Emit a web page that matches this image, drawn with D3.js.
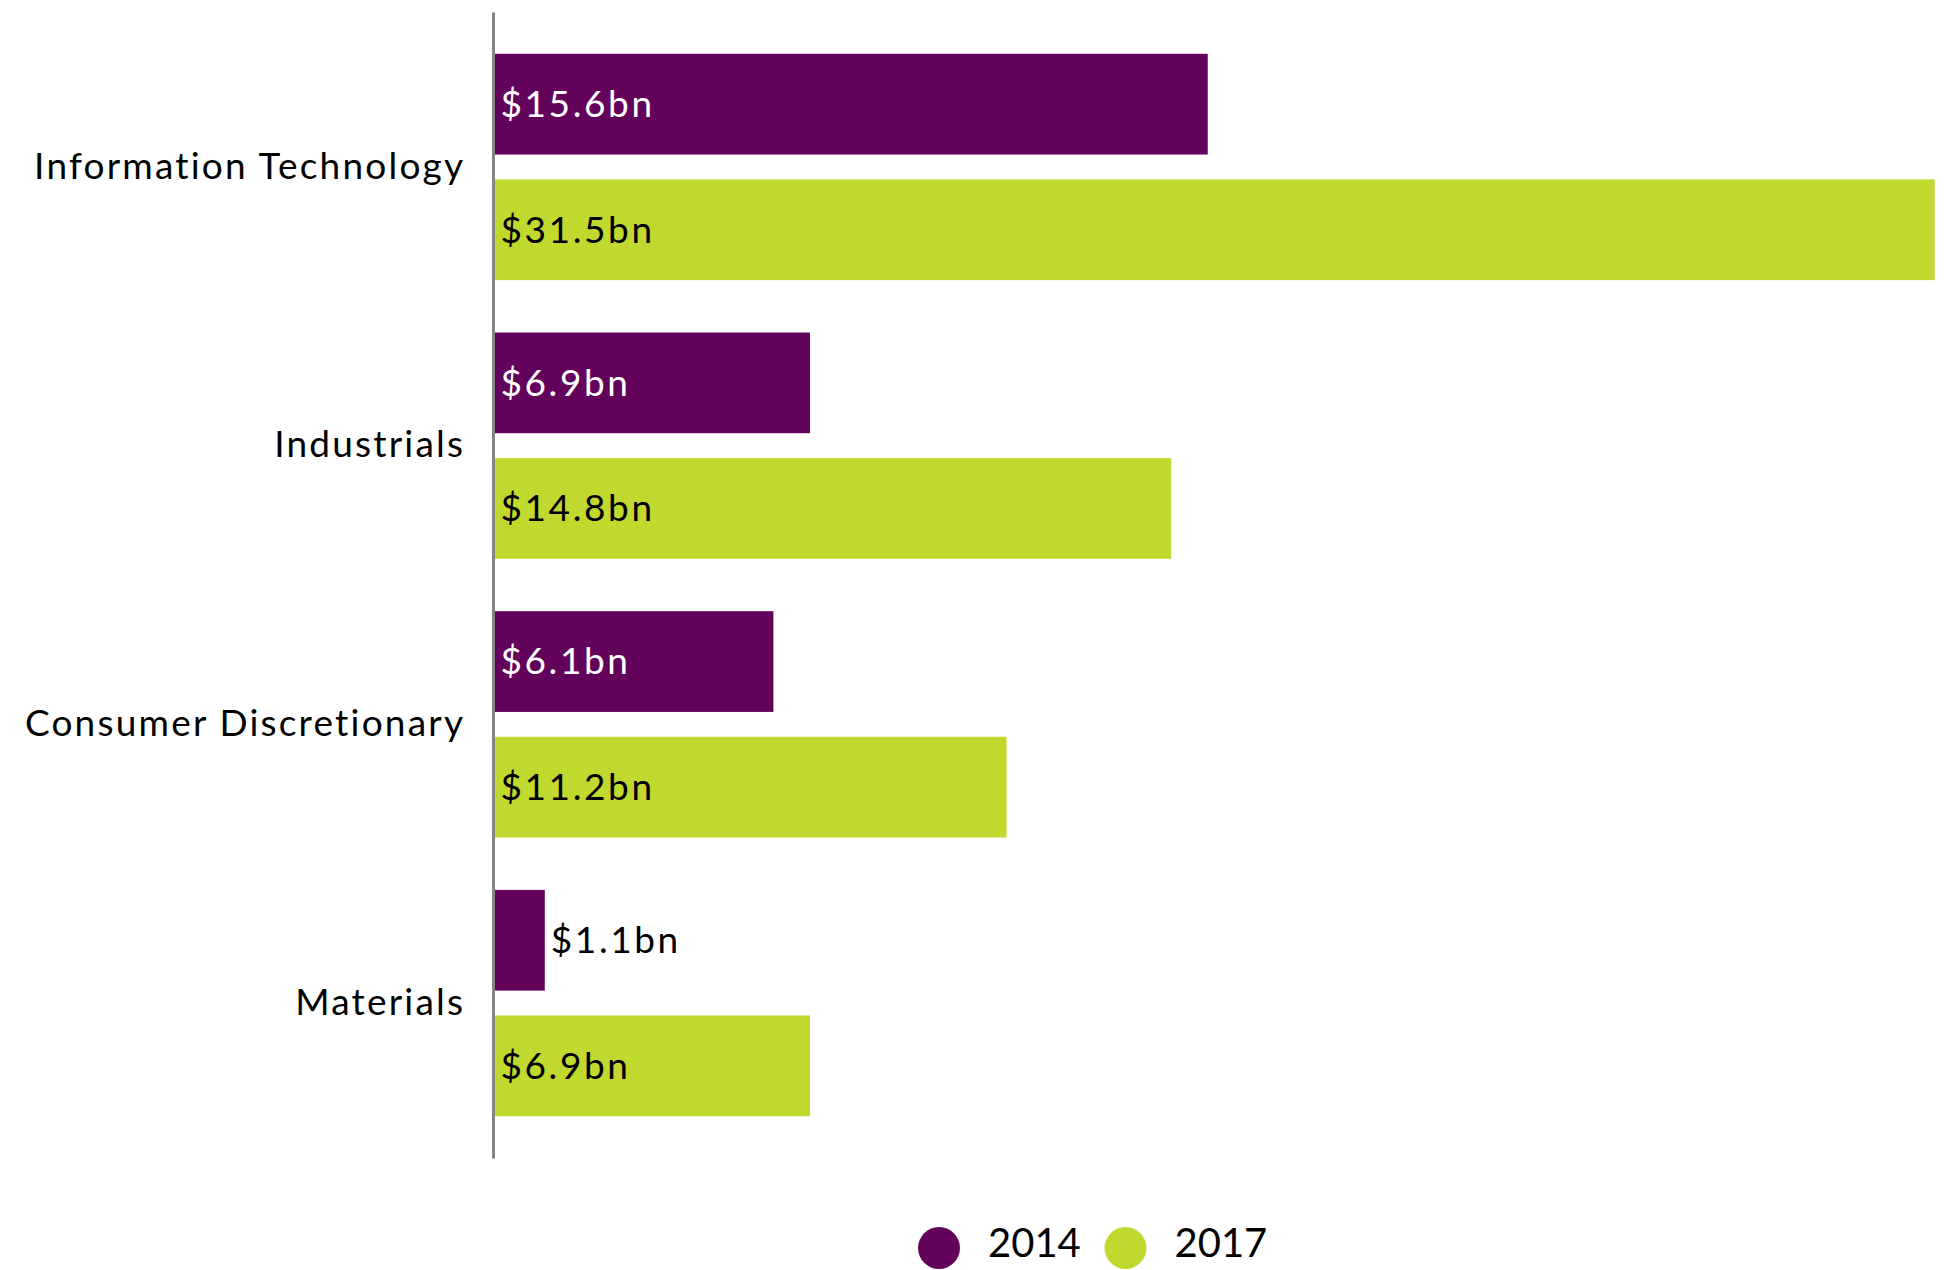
<!DOCTYPE html>
<html>
<head>
<meta charset="utf-8">
<script src="https://cdn.jsdelivr.net/npm/d3@7"></script>
<style>
  html, body { margin: 0; padding: 0; background: #ffffff; }
  svg { display: block; }
  text {
    font-family: Lato, "Open Sans", sans-serif;
    font-weight: 400;
    font-variant-ligatures: none;
  }
</style>
</head>
<body>
<svg id="chart" width="1953" height="1270"></svg>
<script>
// Sectors and funding per year (US$ billions)
const sectors = ["Information Technology", "Industrials", "Consumer Discretionary", "Materials"];
const years = ["2014", "2017"];
const values2014 = [15.6, 6.9, 6.1, 1.1];
const values2017 = [31.5, 14.8, 11.2, 6.9];
const yearColors = ["#63025a", "#c1d92f"];
const labelColors = ["#ffffff", "#000000"];

const seriesByYear = { "2014": values2014, "2017": values2017 };
const rows = sectors.map((s, i) => ({
  sector: s,
  bars: years.map((y, j) => ({ sector: s, year: y, value: seriesByYear[y][i] }))
}));

const W = 1953, H = 1270;
const svg = d3.select("#chart");

const axisX = 493;
const x = d3.scaleLinear().domain([0, 31.9]).range([axisX + 1.5, W]);

const y0 = d3.scaleBand()
  .domain(sectors)
  .range([12, 1158])
  .paddingInner(0.188)
  .paddingOuter(0.15);

const y1 = d3.scaleBand()
  .domain(years)
  .range([0, y0.bandwidth()])
  .paddingInner(0.198)
  .paddingOuter(0);

const color = d3.scaleOrdinal().domain(years).range(yearColors);
const textColor = d3.scaleOrdinal().domain(years).range(labelColors);

const fontSize = 37;

// Bars grouped by sector
const groups = svg.append("g").selectAll("g")
  .data(rows)
  .join("g")
  .attr("transform", d => `translate(0,${y0(d.sector)})`);

groups.selectAll("rect")
  .data(d => d.bars)
  .join("rect")
  .attr("x", x(0))
  .attr("y", d => y1(d.year))
  .attr("width", d => x(d.value) - x(0))
  .attr("height", y1.bandwidth())
  .attr("fill", d => color(d.year));

// Value labels: inside the bar when they fit, otherwise just past its end
groups.selectAll("text.value")
  .data(d => d.bars)
  .join("text")
  .attr("class", "value")
  .attr("y", d => y1(d.year) + y1.bandwidth() / 2)
  .attr("dy", "0.35em")
  .style("font-size", fontSize + "px")
  .style("letter-spacing", "2.6px")
  .text(d => `$${d.value.toFixed(1)}bn`)
  .each(function(d) {
    const len = this.getComputedTextLength();
    const barW = x(d.value) - x(0);
    const inside = len + 12 < barW;
    d3.select(this)
      .attr("x", inside ? x(0) + 6 : x(d.value) + 6)
      .attr("fill", inside ? textColor(d.year) : "#000000");
  });

// Category axis
const axis = svg.append("g")
  .attr("transform", `translate(${axisX},0)`)
  .call(d3.axisLeft(y0).tickSize(0).tickSizeOuter(0).tickPadding(30));

axis.attr("font-family", null);

axis.select(".domain")
  .attr("stroke", "#858585")
  .attr("stroke-width", 3);

axis.selectAll(".tick text")
  .style("font-size", fontSize + "px")
  .style("letter-spacing", "2.2px")
  .attr("dx", "2.2px")
  .attr("fill", "#000000");

// Legend
const legend = svg.append("g").attr("transform", "translate(939,1248)");
const legendItems = legend.selectAll("g")
  .data(years)
  .join("g")
  .attr("transform", (d, i) => `translate(${i * 186.5},0)`);

legendItems.append("circle")
  .attr("r", 21)
  .attr("fill", d => color(d));

legendItems.append("text")
  .attr("x", 49)
  .attr("y", 9)
  .style("font-size", "40px")
  .attr("fill", "#000000")
  .text(d => d);
</script>
</body>
</html>
